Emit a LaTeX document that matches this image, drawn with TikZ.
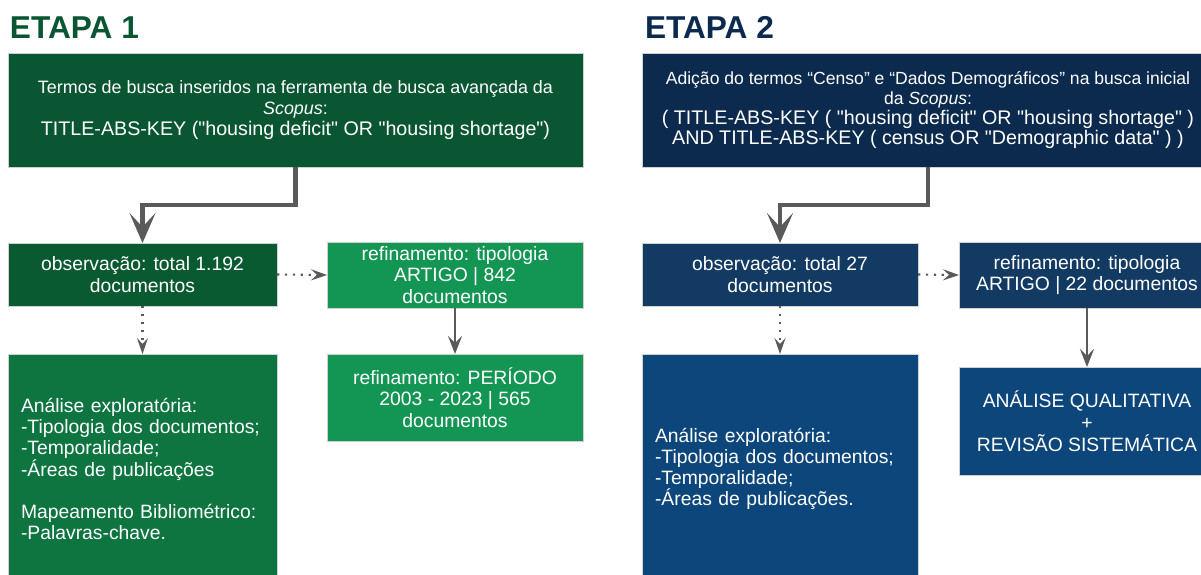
\documentclass[tikz,border=0pt]{standalone}
\usepackage{fontspec}
\setmainfont{Liberation Sans}[Ligatures=TeXOff]
\usetikzlibrary{arrows.meta}
\definecolor{verdeescuro}{HTML}{0B5632}
\definecolor{verdeobs}{HTML}{0A5A31}
\definecolor{verdemedio}{HTML}{0E7541}
\definecolor{verdeclaro}{HTML}{139653}
\definecolor{azulescuro}{HTML}{0B2A4D}
\definecolor{azulobs}{HTML}{133A63}
\definecolor{azulmedio}{HTML}{0D467B}
\definecolor{setacinza}{HTML}{5A5A5A}
\newcommand{\consulta}{\fontsize{11.2}{12.2}\selectfont}
\begin{document}
\begin{tikzpicture}[x=0.02cm,y=-0.02cm,inner sep=0pt,outer sep=0pt,
etapa/.style={anchor=base west,font=\fontsize{18}{20}\selectfont\bfseries},
caixa/.style={draw=black!18,line width=0.5pt,rectangle,text=white,align=center,font=\fontsize{11}{12.4}\selectfont},
busca/.style={caixa,minimum height=2.28cm,font=\fontsize{10.2}{12.2}\selectfont},
lista/.style={caixa,align=left,font=\fontsize{11}{12}\selectfont},
seta/.style={draw=setacinza,line width=2.6pt,-{Stealth[length=0.6cm,width=0.52cm,inset=0.28cm]}},
pontilhada/.style={draw=setacinza,line width=1.2pt,dash pattern=on 1.3pt off 3.2pt,-{Stealth[open,length=0.32cm,width=0.22cm,inset=0.12cm]}},
fina/.style={draw=setacinza,line width=1.1pt,-{Stealth[length=0.36cm,width=0.28cm,inset=0.14cm]}}]
\useasboundingbox (0,0) rectangle (1201,575);
\clip (0,0) rectangle (1201,575);
% titulos
\draw (10,38) node[etapa,text=verdeescuro] (etapa1) {ETAPA 1};
\draw (645,38) node[etapa,text=azulescuro] (etapa2) {ETAPA 2};
% etapa 1
\draw (295.5,110) node[busca,fill=verdeescuro,minimum width=11.5cm] (busca1) {Termos de busca inseridos na ferramenta de busca avançada da\\\textit{Scopus}:\\\consulta TITLE-ABS-KEY ("housing deficit" OR "housing shortage")};
\draw (142.5,274.5) node[caixa,fill=verdeobs,minimum width=5.38cm,minimum height=1.26cm] (obs1) {observação: total 1.192\\documentos};
\draw (455,275) node[caixa,fill=verdeclaro,minimum width=5.12cm,minimum height=1.32cm] (tipo1) {refinamento: tipologia\\ARTIGO | 842\\documentos};
\draw (455,397.5) node[caixa,fill=verdeclaro,minimum width=5.12cm,minimum height=1.74cm] (periodo1) {refinamento: PERÍODO\\2003 - 2023 | 565\\documentos};
\draw (142.5,469) node[lista,fill=verdemedio,minimum width=5.38cm,minimum height=4.6cm,text width=4.86cm] (analise1) {Análise exploratória:\\-Tipologia dos documentos;\\-Temporalidade;\\-Áreas de publicações\\[12pt]Mapeamento Bibliométrico:\\-Palavras-chave.};
% etapa 2
\draw (928,110) node[busca,fill=azulescuro,minimum width=11.44cm,font=\fontsize{10}{11.4}\selectfont] (busca2) {Adição do termos “Censo” e “Dados Demográficos” na busca inicial\\da \textit{Scopus}:\\\consulta( TITLE-ABS-KEY ( "housing deficit" OR "housing shortage" )\\\consulta AND TITLE-ABS-KEY ( census OR "Demographic data" ) )};
\draw (780,274.5) node[caixa,fill=azulobs,minimum width=5.52cm,minimum height=1.26cm] (obs2) {observação: total 27\\documentos};
\draw (1087,275) node[caixa,fill=azulobs,minimum width=5.12cm,minimum height=1.32cm] (tipo2) {refinamento: tipologia\\ARTIGO | 22 documentos};
\draw (780,469) node[lista,fill=azulmedio,minimum width=5.52cm,minimum height=4.6cm,text width=5.0cm] (analise2) {Análise exploratória:\\-Tipologia dos documentos;\\-Temporalidade;\\-Áreas de publicações.};
\draw (1087,421) node[caixa,fill=azulmedio,minimum width=5.12cm,minimum height=2.16cm] (final2) {ANÁLISE QUALITATIVA\\+\\REVISÃO SISTEMÁTICA};
% setas
\draw[seta] (busca1.south) -- ++(0,38) -| (obs1.north);
\draw[pontilhada] (obs1.east) -- (tipo1.west);
\draw[pontilhada] (obs1.south) -- (analise1.north);
\draw[fina] (tipo1.south) -- (periodo1.north);
\draw[seta] (busca2.south) -- ++(0,38) -| (obs2.north);
\draw[pontilhada] (obs2.east) -- (tipo2.west);
\draw[pontilhada] (obs2.south) -- (analise2.north);
\draw[fina] (tipo2.south) -- (final2.north);
\end{tikzpicture}
\end{document}
